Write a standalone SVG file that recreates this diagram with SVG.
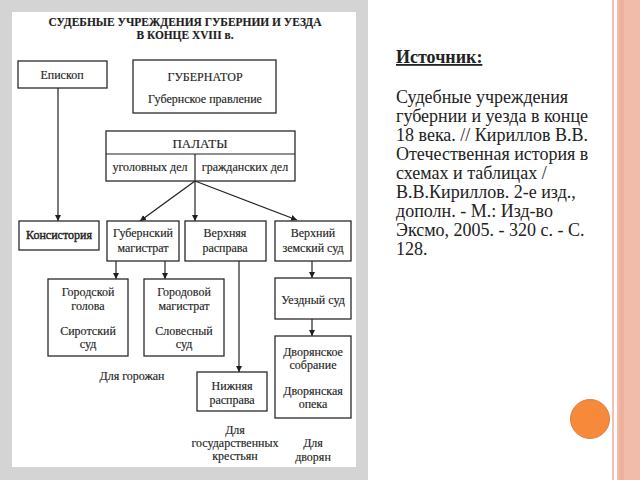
<svg xmlns="http://www.w3.org/2000/svg" width="640" height="480" viewBox="0 0 640 480">
<defs>
<marker id="ah" viewBox="0 0 10 10" refX="10" refY="5" markerWidth="6" markerHeight="6" markerUnits="userSpaceOnUse" orient="auto">
<path d="M0,0 L10,5 L0,10 z" fill="#1e1e1e"/>
</marker>
<style>
.box{fill:#fff;stroke:#2a2a2a;stroke-width:1.3}
.t{font-family:"Liberation Serif","Times New Roman",serif;font-size:12px;fill:#1e1e1e;text-anchor:middle;stroke:#1e1e1e;stroke-width:0.15}
.tb{font-weight:bold}
.ln{stroke:#222;stroke-width:1.2;fill:none}
.arr{stroke:#222;stroke-width:1.2;fill:none;marker-end:url(#ah)}
.src{font-family:"Liberation Serif","Times New Roman",serif;font-size:18px;fill:#222}
</style>
</defs>
<rect x="0" y="0" width="640" height="480" fill="#fff"/>
<rect x="0" y="0" width="368" height="480" fill="#d4d4d4"/>
<rect x="12" y="12" width="344" height="455" fill="#fff"/>
<rect x="612" y="0" width="2" height="480" fill="#f3c2b4"/>
<rect x="617" y="0" width="23" height="480" fill="#f2bcaa"/>
<rect x="619" y="0" width="5" height="480" fill="#eeb19e"/>
<circle cx="590" cy="419" r="19.5" fill="#f78a3a" stroke="#d98248" stroke-width="1"/>

<text x="396" y="63" class="src" font-weight="bold" text-decoration="underline">Источник:</text>
<g class="src">
<text x="396" y="103">Судебные учреждения</text>
<text x="396" y="122">губернии и уезда в конце</text>
<text x="396" y="141">18 века. // Кириллов В.В.</text>
<text x="396" y="160">Отечественная история в</text>
<text x="396" y="179">схемах и таблицах /</text>
<text x="396" y="198">В.В.Кириллов. 2-е изд.,</text>
<text x="396" y="217">дополн. - М.: Изд-во</text>
<text x="396" y="236">Эксмо, 2005. - 320 с. - С.</text>
<text x="396" y="255">128.</text>
</g>

<g id="title">
<text x="185" y="26" class="t tb" font-size="12" textLength="273" lengthAdjust="spacingAndGlyphs">СУДЕБНЫЕ УЧРЕЖДЕНИЯ ГУБЕРНИИ И УЕЗДА</text>
<text x="185" y="39" class="t tb" font-size="12" textLength="97" lengthAdjust="spacingAndGlyphs">В КОНЦЕ XVIII в.</text>
</g>

<g id="connectors">
<line x1="58" y1="88" x2="58" y2="221" class="arr"/>
<line x1="195" y1="181" x2="140" y2="221" class="arr"/>
<line x1="195" y1="181" x2="195" y2="221" class="arr"/>
<line x1="195" y1="181" x2="297" y2="220" class="arr"/>
<line x1="116" y1="261" x2="116" y2="279" class="arr"/>
<line x1="165" y1="261" x2="165" y2="279" class="arr"/>
<line x1="239" y1="261" x2="239" y2="372" class="arr"/>
<line x1="312" y1="261" x2="312" y2="278" class="arr"/>
<line x1="312" y1="319" x2="312" y2="336" class="arr"/>
</g>

<g id="episkop">
<rect x="18" y="61" width="89" height="27" class="box"/>
<text x="62" y="79" class="t">Епископ</text>
</g>
<g id="gubernator">
<rect x="133" y="60" width="143" height="53" class="box"/>
<text x="205" y="81" class="t" font-size="12">ГУБЕРНАТОР</text>
<text x="205" y="103" class="t">Губернское правление</text>
</g>
<g id="palaty">
<rect x="106" y="131" width="189" height="50" class="box"/>
<line x1="106" y1="154" x2="295" y2="154" class="ln"/>
<line x1="195" y1="154" x2="195" y2="181" class="ln"/>
<text x="200" y="148" class="t" style="font-size:13px">ПАЛАТЫ</text>
<text x="150" y="171" class="t">уголовных дел</text>
<text x="245" y="171" class="t">гражданских дел</text>
</g>
<g id="konsistoria">
<rect x="19" y="221" width="80" height="29" class="box"/>
<text x="59" y="239" class="t" style="stroke-width:0.4">Консистория</text>
</g>
<g id="gub-magistrat">
<rect x="107" y="221" width="72" height="40" class="box"/>
<text x="143" y="237" class="t">Губернский</text>
<text x="143" y="252" class="t">магистрат</text>
</g>
<g id="verkh-rasprava">
<rect x="185" y="221" width="81" height="40" class="box"/>
<text x="225" y="237" class="t">Верхняя</text>
<text x="225" y="252" class="t">расправа</text>
</g>
<g id="verkh-zemsky">
<rect x="275" y="221" width="76" height="40" class="box"/>
<text x="313" y="237" class="t">Верхний</text>
<text x="313" y="252" class="t">земский суд</text>
</g>
<g id="gorodskoy">
<rect x="48" y="279" width="80" height="77" class="box"/>
<text x="88" y="296" class="t">Городской</text>
<text x="88" y="310" class="t">голова</text>
<text x="88" y="335" class="t">Сиротский</text>
<text x="88" y="348" class="t">суд</text>
</g>
<g id="gorodovoy">
<rect x="144" y="279" width="80" height="77" class="box"/>
<text x="184" y="296" class="t">Городовой</text>
<text x="184" y="310" class="t">магистрат</text>
<text x="184" y="335" class="t">Словесный</text>
<text x="184" y="348" class="t">суд</text>
</g>
<g id="nizhnyaya">
<rect x="197" y="372" width="70" height="39" class="box"/>
<text x="232" y="390" class="t">Нижняя</text>
<text x="232" y="404" class="t">расправа</text>
</g>
<g id="uezdny">
<rect x="275" y="278" width="76" height="41" class="box"/>
<text x="313" y="304" class="t">Уездный суд</text>
</g>
<g id="dvoryanskoe">
<rect x="275" y="336" width="76" height="82" class="box"/>
<text x="313" y="356" class="t">Дворянское</text>
<text x="313" y="369" class="t">собрание</text>
<text x="313" y="395" class="t">Дворянская</text>
<text x="313" y="408" class="t">опека</text>
</g>

<g id="labels">
<text x="132" y="380" class="t">Для горожан</text>
<text x="235" y="434" class="t">Для</text>
<text x="235" y="447" class="t">государственных</text>
<text x="235" y="460" class="t">крестьян</text>
<text x="313" y="447" class="t">Для</text>
<text x="313" y="461" class="t">дворян</text>
</g>
</svg>
